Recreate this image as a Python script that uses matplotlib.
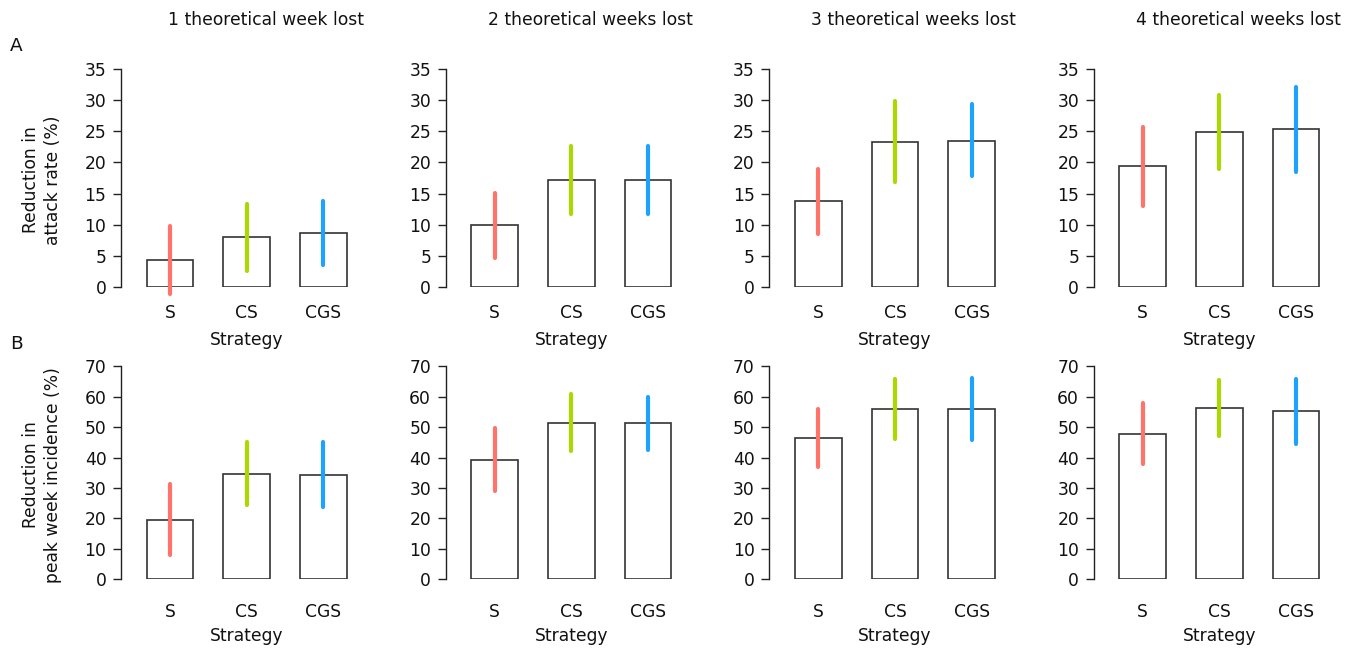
import matplotlib
matplotlib.use("Agg")
import matplotlib.pyplot as plt
import numpy as np

plt.rcParams["font.family"] = ["DejaVu Sans"]

strategies = ["S", "CS", "CGS"]
weeks_titles = ["1 theoretical week lost", "2 theoretical weeks lost",
                "3 theoretical weeks lost", "4 theoretical weeks lost"]
bar_colors = ["#FF736A", "#AAD800", "#1EA2FF"]

# Row A: reduction in attack rate (%)
attack_mean = [[4.4, 8.0, 8.7], [9.9, 17.2, 17.2],
               [13.8, 23.3, 23.5], [19.4, 24.9, 25.3]]
attack_low = [[-1.1, 2.6, 3.6], [4.7, 11.8, 11.8],
              [8.5, 16.8, 17.8], [13.0, 19.0, 18.5]]
attack_high = [[9.8, 13.4, 13.8], [15.1, 22.7, 22.7],
               [19.0, 29.9, 29.3], [25.7, 30.8, 32.1]]

# Row B: reduction in peak week incidence (%)
peak_mean = [[19.5, 34.7, 34.4], [39.3, 51.4, 51.3],
             [46.6, 56.1, 56.1], [47.9, 56.3, 55.2]]
peak_low = [[7.9, 24.5, 23.9], [28.9, 42.1, 42.5],
            [37.0, 46.2, 45.9], [37.8, 47.0, 44.4]]
peak_high = [[31.2, 45.0, 45.0], [49.6, 60.9, 60.0],
             [56.1, 65.7, 66.2], [58.1, 65.4, 65.7]]

W, H = 1356, 652
fig = plt.figure(figsize=(W / 100, H / 100), dpi=100)

axis_x = [121, 445.7, 769.3, 1093.7]
ax_w = 289
pitch = 76.7
rows = [
    dict(top=68.7, bottom=287.3, ymax=35, step=5, mean=attack_mean,
         low=attack_low, high=attack_high,
         ylabel="Reduction in\nattack rate (%)", tick_pad=12.3, lab_off=53.0,
         letter="A", letter_y=46),
    dict(top=366.3, bottom=579.3, ymax=70, step=10, mean=peak_mean,
         low=peak_low, high=peak_high,
         ylabel="Reduction in\npeak week incidence (%)", tick_pad=17.3,
         lab_off=57.0, letter="B", letter_y=344),
]

xs = np.arange(len(strategies))
x_left = -49 / pitch
x_right = x_left + ax_w / pitch
fs = 12.3

for r, row in enumerate(rows):
    h_px = row["bottom"] - row["top"]
    for c in range(4):
        ax = fig.add_axes([axis_x[c] / W, 1 - row["bottom"] / H,
                           ax_w / W, h_px / H])
        ax.set_xlim(x_left, x_right)
        ax.set_ylim(0, row["ymax"])
        m = np.array(row["mean"][c])
        lo = np.array(row["low"][c])
        hi = np.array(row["high"][c])
        ax.bar(xs, m, width=46.7 / pitch, color="white",
               edgecolor="#333333", linewidth=1.2, zorder=2)
        for i in range(len(xs)):
            ax.plot([xs[i], xs[i]], [lo[i], hi[i]], color=bar_colors[i],
                    linewidth=3.0, solid_capstyle="round", zorder=3,
                    clip_on=False)
        for s in ["top", "right", "bottom"]:
            ax.spines[s].set_visible(False)
        ax.spines["left"].set_color("#222222")
        ax.spines["left"].set_linewidth(1.0)
        ax.set_yticks(np.arange(0, row["ymax"] + 1, row["step"]))
        ax.tick_params(axis="y", direction="out", length=6, width=1.0,
                       pad=4.5, labelsize=fs, color="#222222",
                       labelcolor="#111111")
        ax.set_xticks(xs)
        ax.set_xticklabels(strategies)
        ax.tick_params(axis="x", length=0, pad=row["tick_pad"],
                       labelsize=fs, labelcolor="#111111")
        ax.set_xlabel("Strategy", fontsize=fs, color="#111111",
                      labelpad=0, va="center")
        ax.xaxis.set_label_coords((xs[1] - x_left) / (x_right - x_left),
                                  -row["lab_off"] / h_px)
        if r == 0:
            ax.set_title(weeks_titles[c], fontsize=fs, color="#111111",
                         pad=0, y=1 + (row["top"] - 20) / h_px,
                         va="center")
        if c == 0:
            fig.text(42 / W, 1 - ((row["top"] + row["bottom"]) / 2 + 2) / H,
                     row["ylabel"], rotation=90, ha="center", va="center",
                     fontsize=fs, color="#111111", linespacing=1.3)
    fig.text(16 / W, 1 - row["letter_y"] / H, row["letter"], ha="center",
             va="center", fontsize=fs + 1, color="#111111")

fig.savefig("out.png", dpi=100, facecolor="white")
